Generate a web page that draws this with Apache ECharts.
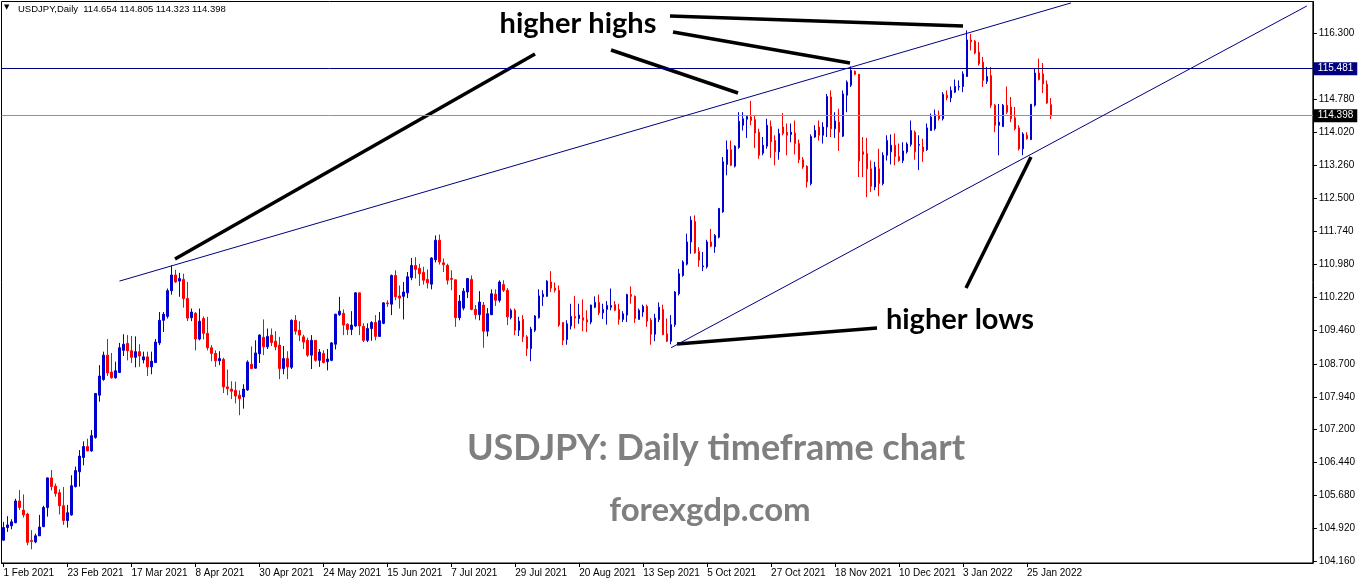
<!DOCTYPE html>
<html>
<head>
<meta charset="utf-8">
<script src="https://cdn.jsdelivr.net/npm/echarts@6/dist/echarts.min.js"></script>
<style>
html,body{margin:0;padding:0;background:#fff;}
#chart{width:1358px;height:584px;}
</style>
</head>
<body>
<div id="chart"></div>
<script>
// ---- Data (USDJPY daily, 1 Feb 2021 .. 2 Feb 2022) ----
const opens = [
104.65,104.94,104.98,105.05,105.55,105.34,105.25,104.64,104.61,104.75,
104.96,105.40,106.08,105.89,105.74,105.44,105.10,105.23,105.88,106.22,
106.55,106.80,106.70,107.01,107.98,108.34,108.90,108.51,108.38,108.50,
109.01,109.17,109.00,108.85,108.98,108.79,108.86,108.63,108.73,109.18,
109.70,109.79,110.38,110.74,110.60,110.64,110.20,109.76,109.86,109.27,
109.74,109.40,109.07,108.94,108.77,108.80,108.17,108.12,108.09,107.98,
107.94,108.10,108.69,108.60,108.93,109.31,109.09,109.36,109.22,109.13,
108.59,108.82,108.62,109.70,109.47,109.32,109.24,108.90,109.24,108.78,
108.94,108.75,108.78,109.15,109.83,109.86,109.61,109.49,109.57,110.33,
109.56,109.24,109.51,109.65,109.33,109.63,110.10,110.07,110.73,110.26,
110.25,110.33,110.68,110.96,110.89,110.80,110.64,110.53,111.09,111.54,
111.02,110.96,110.66,110.63,109.76,109.98,110.35,110.64,109.95,109.83,
110.05,109.45,109.83,110.30,110.16,110.52,110.39,109.76,109.93,109.47,
109.72,109.32,109.05,109.47,109.76,110.24,110.25,110.58,110.44,110.39,
109.65,109.26,109.57,109.79,109.74,109.76,109.71,109.66,110.00,110.11,
109.87,109.95,110.00,110.06,109.95,109.72,109.82,110.29,110.25,109.72,
109.89,110.02,109.70,109.38,109.72,109.95,109.39,109.22,109.60,110.31,
110.73,110.99,111.50,111.97,111.28,110.93,110.93,111.50,111.39,111.61,
112.19,113.28,113.62,113.24,113.67,114.18,114.32,114.37,114.31,114.02,
113.54,113.70,114.15,113.83,113.57,114.14,114.02,113.97,114.00,113.76,
113.39,113.24,112.84,113.91,114.14,113.95,114.14,114.83,114.10,114.25,
113.93,114.87,115.10,115.42,115.35,113.57,113.53,113.18,112.76,113.18,
112.84,113.49,113.57,113.72,113.46,113.37,113.57,113.74,114.02,113.72,
113.68,113.62,114.06,114.10,114.40,114.33,114.87,114.81,114.94,115.06,
115.07,115.30,116.14,116.11,115.86,115.63,115.19,115.32,114.64,114.18,
114.15,114.64,114.60,114.35,114.12,113.64,113.95,113.85,114.64,115.38,
115.36,115.12,114.654
];
const closes = [
104.94,105.00,105.07,105.55,105.40,105.23,104.60,104.62,104.75,104.95,
105.40,106.08,105.88,105.72,105.44,105.10,105.28,105.90,106.25,106.58,
106.80,106.70,107.05,108.02,108.42,108.90,108.49,108.38,108.54,109.07,
109.15,109.00,108.85,108.98,108.88,108.86,108.63,108.76,109.20,109.70,
109.84,110.38,110.74,110.58,110.66,110.20,109.75,109.89,109.27,109.68,
109.40,109.07,108.94,108.77,108.82,108.17,108.13,108.07,107.96,107.90,
108.12,108.74,108.59,108.95,109.36,109.09,109.33,109.19,109.09,108.59,
108.82,108.63,109.70,109.45,109.36,109.20,108.90,109.24,108.78,108.97,
108.73,108.81,109.18,109.84,109.91,109.59,109.49,109.59,110.33,109.57,
109.24,109.51,109.65,109.33,109.69,110.10,110.08,110.73,110.24,110.21,
110.35,110.70,110.96,110.87,110.77,110.62,110.56,111.13,111.54,111.04,
110.98,110.62,110.64,109.76,110.14,110.37,110.66,109.95,109.83,110.12,
109.45,109.85,110.31,110.16,110.58,110.39,109.78,109.93,109.47,109.68,
109.32,109.05,109.50,109.80,110.26,110.30,110.60,110.44,110.39,109.59,
109.24,109.62,109.79,109.75,109.82,109.70,109.66,110.05,110.11,109.87,
109.95,110.04,110.04,109.93,109.72,109.85,110.29,110.25,109.74,109.93,
110.02,109.68,109.38,109.75,110.00,109.37,109.22,109.60,110.35,110.77,
111.04,111.50,112.00,111.25,111.08,110.95,111.50,111.40,111.65,112.27,
113.34,113.62,113.26,113.70,114.27,114.33,114.38,114.29,114.00,113.49,
113.72,114.18,113.80,113.57,113.99,113.99,113.95,114.02,113.76,113.39,
113.22,112.88,113.92,114.06,113.95,114.14,114.84,114.10,114.28,114.02,
114.90,115.17,115.44,115.35,113.36,113.51,113.18,112.78,113.22,112.84,
113.49,113.83,113.72,113.46,113.37,113.59,113.75,114.06,113.57,113.74,
113.57,114.12,114.37,114.42,114.33,114.89,114.81,114.98,115.07,115.07,
115.36,116.14,116.10,115.84,115.59,115.21,115.30,114.64,114.18,114.25,
114.64,114.48,114.33,114.10,113.64,113.98,113.87,114.66,115.38,115.23,
115.13,114.69,114.398
];
const highs = [
105.07,105.20,105.13,105.60,105.80,105.70,105.28,104.88,104.80,105.23,
105.44,106.09,106.26,105.95,105.82,105.87,105.46,106.14,106.34,106.72,
106.92,106.98,107.18,108.03,108.67,108.98,109.27,108.95,108.75,109.18,
109.38,109.36,109.34,109.33,109.15,108.98,108.98,108.98,109.27,109.89,
109.89,110.43,110.96,110.86,110.79,110.77,110.58,109.97,109.89,109.97,
109.79,109.78,109.13,109.01,108.99,108.84,108.57,108.30,108.29,108.09,
108.23,108.78,109.10,109.24,109.38,109.72,109.51,109.51,109.45,109.32,
109.11,108.99,109.72,109.82,109.68,109.37,109.30,109.36,109.24,109.04,
109.01,109.04,109.20,109.85,110.24,109.95,109.63,109.91,110.35,110.33,
109.63,109.63,109.68,109.82,109.89,110.12,110.16,110.75,110.85,110.50,
110.58,110.81,111.13,111.15,111.00,110.93,110.87,111.15,111.65,111.67,
111.12,111.00,110.85,110.63,110.28,110.44,110.67,110.73,110.05,110.37,
110.12,109.98,110.41,110.41,110.62,110.62,110.44,109.97,109.97,109.78,
109.82,109.36,109.55,109.82,110.41,110.39,110.62,110.83,110.57,110.50,
109.66,109.70,110.08,110.26,110.08,110.18,109.93,110.06,110.25,110.29,
110.08,110.14,110.43,110.14,110.08,109.91,110.31,110.48,110.27,109.97,
110.06,110.06,109.75,109.85,110.11,110.06,109.74,109.82,110.37,110.88,
111.08,111.69,112.09,112.11,111.38,111.27,111.55,111.80,111.68,112.28,
113.45,113.83,113.83,113.72,114.48,114.48,114.41,114.74,114.41,114.10,
113.91,114.33,114.29,113.95,114.10,114.46,114.22,114.22,114.29,113.85,
113.45,113.26,113.97,114.18,114.29,114.25,114.90,114.98,114.48,114.56,
114.98,115.21,115.53,115.44,115.36,113.91,113.89,113.37,113.34,113.64,
113.56,113.95,113.97,113.99,113.76,113.79,113.79,114.29,114.06,113.95,
113.87,114.22,114.45,114.54,114.52,114.94,114.98,115.07,115.23,115.21,
115.42,116.36,116.28,116.14,116.09,115.75,115.52,115.52,114.67,114.67,
114.67,115.07,114.83,114.60,114.18,114.02,114.02,114.67,115.49,115.71,
115.61,115.21,114.805
];
const lows = [
104.64,104.84,104.90,105.04,105.34,105.17,104.53,104.44,104.58,104.75,
104.95,105.19,105.79,105.65,105.24,105.00,104.94,105.21,105.86,105.88,
106.37,106.70,106.68,106.98,107.83,108.31,108.42,108.36,108.36,108.49,
108.88,108.78,108.72,108.62,108.63,108.71,108.42,108.46,108.72,109.13,
109.43,109.74,110.29,110.56,110.24,109.99,109.68,109.68,109.01,109.24,
109.26,109.01,108.76,108.63,108.67,108.03,107.98,107.89,107.79,107.52,
107.67,108.08,108.58,108.59,108.72,108.90,109.04,109.11,109.01,108.35,
108.46,108.35,108.58,109.37,109.22,109.04,108.86,108.58,108.75,108.63,
108.71,108.55,108.76,109.03,109.80,109.36,109.36,109.36,109.55,109.36,
109.20,109.20,109.23,109.24,109.32,109.61,110.01,109.82,110.16,109.97,
109.72,110.21,110.62,110.66,110.49,110.52,110.43,110.41,111.03,110.98,
110.81,110.52,110.39,109.55,109.70,109.93,110.21,109.93,109.72,109.70,
109.07,109.33,109.82,110.03,110.11,110.35,109.59,109.72,109.36,109.34,
109.20,108.88,108.76,109.43,109.74,110.03,110.24,110.35,110.34,109.55,
109.13,109.14,109.49,109.51,109.62,109.45,109.43,109.61,109.98,109.82,
109.73,109.60,109.93,109.91,109.60,109.66,109.66,110.08,109.64,109.72,
109.78,109.55,109.14,109.22,109.66,109.36,109.20,109.15,109.55,110.27,
110.70,110.96,111.23,111.23,110.93,110.83,110.89,111.38,111.25,111.58,
112.17,113.03,113.24,113.21,113.64,114.06,113.89,114.18,113.66,113.41,
113.49,113.64,113.43,113.26,113.39,113.95,113.49,113.79,113.51,113.31,
113.18,112.75,112.80,113.89,113.83,113.76,113.91,113.91,113.89,113.59,
113.91,114.48,115.06,115.33,112.99,112.99,112.53,112.65,112.69,112.55,
112.80,113.37,113.28,113.26,113.34,113.31,113.53,113.69,113.39,113.15,
113.34,113.59,114.06,114.06,114.29,114.29,114.75,114.71,114.92,114.98,
114.94,115.29,115.90,115.81,115.55,115.06,115.13,114.58,114.02,113.49,
114.14,114.44,114.25,114.06,113.60,113.49,113.85,113.85,114.61,115.21,
114.92,114.67,114.323
];
// date tick labels shown on the time axis (every 16 bars)
const xTickLabels = ['1 Feb 2021','23 Feb 2021','17 Mar 2021','8 Apr 2021','30 Apr 2021','24 May 2021',
  '15 Jun 2021','7 Jul 2021','29 Jul 2021','20 Aug 2021','13 Sep 2021','5 Oct 2021','27 Oct 2021',
  '18 Nov 2021','10 Dec 2021','3 Jan 2022','25 Jan 2022'];
// price tick labels on the right axis
const yTickValues = [116.30,114.78,114.02,113.26,112.50,111.74,110.98,110.22,109.46,108.70,107.94,107.20,106.44,105.68,104.92,104.16];
// horizontal price lines
const resistanceLevel = 115.481;
const lastPrice = 114.398;
// trend lines as [bar index, price] anchors
const upperTrend = [[29, 110.60], [267, 116.99]];
const lowerTrend = [[167, 109.07], [326, 116.92]];

// ---- category axis: trading days (bars + empty shift space) ----
const totalSlots = 328;
const dates = [];
(function(){
  const d = new Date(Date.UTC(2021, 1, 1));
  while (dates.length < totalSlots) {
    const wd = d.getUTCDay();
    if (wd !== 0 && wd !== 6) dates.push(d.toISOString().slice(0, 10));
    d.setUTCDate(d.getUTCDate() + 1);
  }
})();
const candles = opens.map((o, i) => [o, closes[i], lows[i], highs[i]]);

const BULL = '#0000cd', BEAR = '#ff0000', NAVY = '#000080';
const axisFont = 'Liberation Sans, Arial, sans-serif';
const annoFont = 'Lato, sans-serif';

const chart = echarts.init(document.getElementById('chart'), null, {renderer: 'canvas'});
const option = {
  animation: false,
  backgroundColor: '#ffffff',
  grid: {left: 1.5, top: 1.5, width: totalSlots * 4, height: 561.5, show: true, borderColor: '#000', borderWidth: 1, backgroundColor: '#fff'},
  xAxis: {
    type: 'category', data: dates, boundaryGap: true,
    axisLine: {show: true, lineStyle: {color: '#000', width: 1}},
    axisTick: {show: true, alignWithLabel: true, length: 4, lineStyle: {color: '#000'},
      interval: (idx) => idx % 16 === 0 && idx / 16 < xTickLabels.length},
    axisLabel: {show: true, align: 'left', margin: 5, color: '#000', fontFamily: axisFont, fontSize: 10,
      interval: (idx) => idx % 16 === 0 && idx / 16 < xTickLabels.length,
      formatter: (v, idx) => xTickLabels[idx / 16] || ''},
    splitLine: {show: false}
  },
  yAxis: {
    type: 'value', position: 'right', min: 104.125, max: 117.023, scale: true,
    axisLine: {show: true, lineStyle: {color: '#000', width: 1}},
    axisTick: {show: true, length: 4, lineStyle: {color: '#000'}, customValues: yTickValues},
    axisLabel: {show: true, margin: 6, color: '#000', fontFamily: axisFont, fontSize: 10,
      customValues: yTickValues, formatter: (v) => Number(v).toFixed(3)},
    splitLine: {show: false}
  },
  series: [{
    type: 'candlestick',
    data: candles,
    barWidth: 2,
    itemStyle: {color: BULL, color0: BEAR, borderColor: BULL, borderColor0: BEAR, borderWidth: 1},
    markLine: {
      silent: true, symbol: ['none', 'none'], animation: false,
      data: [
        {yAxis: resistanceLevel, lineStyle: {color: NAVY, width: 1, type: 'solid'},
          label: {show: true, position: 'end', distance: 1, formatter: () => resistanceLevel.toFixed(3),
            color: '#fff', backgroundColor: NAVY, padding: [2, 4, 1, 4], fontFamily: axisFont, fontSize: 10}},
        {yAxis: lastPrice, lineStyle: {color: '#8595a5', width: 1, type: 'solid'},
          label: {show: true, position: 'end', distance: 1, formatter: () => lastPrice.toFixed(3),
            color: '#fff', backgroundColor: '#000', padding: [2, 4, 1, 4], fontFamily: axisFont, fontSize: 10}},
        [{coord: upperTrend[0], lineStyle: {color: NAVY, width: 1, type: 'solid'}, label: {show: false}}, {coord: upperTrend[1]}],
        [{coord: lowerTrend[0], lineStyle: {color: NAVY, width: 1, type: 'solid'}, label: {show: false}}, {coord: lowerTrend[1]}]
      ]
    }
  }],
  graphic: [
    {type: 'text', left: 4, top: 4, style: {text: '▼', fill: '#000', font: '7px DejaVu Sans'}},
    {type: 'text', left: 18, top: 4, style: {text: 'USDJPY,Daily  114.654 114.805 114.323 114.398', fill: '#000', font: '9.5px ' + axisFont}},
    {type: 'text', x: 578, y: 24, style: {text: 'higher highs', fill: '#000', font: 'bold 29px ' + annoFont, align: 'center', verticalAlign: 'middle'}},
    {type: 'text', x: 960, y: 320, style: {text: 'higher lows', fill: '#000', font: 'bold 29px ' + annoFont, align: 'center', verticalAlign: 'middle'}},
    {type: 'text', x: 716, y: 448, style: {text: 'USDJPY: Daily timeframe chart', fill: '#7f7f7f', font: 'bold 36px ' + annoFont, align: 'center', verticalAlign: 'middle'}},
    {type: 'text', x: 710, y: 510, style: {text: 'forexgdp.com', fill: '#7f7f7f', font: 'bold 33px ' + annoFont, align: 'center', verticalAlign: 'middle'}},
    {type: 'line', shape: {x1: 535, y1: 54, x2: 175, y2: 259}, style: {stroke: '#000', lineWidth: 3.5}},
    {type: 'line', shape: {x1: 611, y1: 50, x2: 738, y2: 93}, style: {stroke: '#000', lineWidth: 3.5}},
    {type: 'line', shape: {x1: 673, y1: 32, x2: 850, y2: 63}, style: {stroke: '#000', lineWidth: 3.5}},
    {type: 'line', shape: {x1: 670, y1: 16, x2: 963, y2: 26}, style: {stroke: '#000', lineWidth: 3.5}},
    {type: 'line', shape: {x1: 677, y1: 344, x2: 877, y2: 328}, style: {stroke: '#000', lineWidth: 3.5}},
    {type: 'line', shape: {x1: 966, y1: 288, x2: 1031, y2: 157}, style: {stroke: '#000', lineWidth: 3.5}}
  ]
};
chart.setOption(option);
</script>
</body>
</html>
